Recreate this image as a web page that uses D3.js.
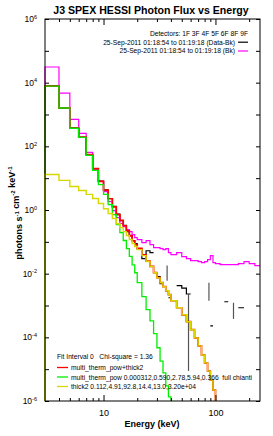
<!DOCTYPE html>
<html>
<head>
<meta charset="utf-8">
<script src="https://cdn.jsdelivr.net/npm/d3@7"></script>
<style>
  body { margin: 0; background: #fff; }
  svg { display: block; font-family: "Liberation Sans", Arial, sans-serif; }
  text { white-space: pre; }
</style>
</head>
<body>
<div id="chart"></div>
<script>
const WIDTH = 273;
const HEIGHT = 436;
const PLOT = { LEFT: 45, RIGHT: 260, TOP: 19, BOTTOM: 401 };

// energy bin edges (keV), one more than the values below
const energyEdges = [3, 4, 5, 6, 7, 8, 9, 10, 11, 12, 13, 14, 15, 16, 17, 18, 19, 20,
  22, 24, 26, 28, 30, 32, 34, 36, 38, 40, 45, 50, 55, 60, 65, 70, 75, 80, 85, 90, 95, 100,
  110, 120, 130, 140, 150, 160, 180, 200, 225, 250];

// Data-Bk (black), null where the flux is not positive
const dataFlux = [7900, 1580, 380, 192, 54, 19.5, 8.1, 4.3, 2.3, 1.3, 0.75, 0.46, 0.33, 0.21, 0.16, 0.11, 0.088,
  0.06, 0.0295, 0.0525, 0.046, null, 0.0081, 0.0049, null, null, 0.00175,
  null, 0.0042, 0.0035, 0.0023, null, null, null, null, null, null,
  2.3e-4, null, null, null, 0.00131, null, null, null, 8.5e-4, null, null, null];

// error bars drawn on a few high energy bins
const errBins = [25, 30, 36, 43];
const errHi = [0.0179, 0.0023, 0.0052, 0.00122];
const errLo = [0.006, 8.8e-6, 0.00142, 3.8e-4];

// background (magenta)
const bkFlux = [3.1e4, 4700, 700, 257, 65, 19, 7.9, 3.8, 1.85, 0.96, 0.58, 0.376, 0.30, 0.243, 0.21, 0.169, 0.136,
  0.118, 0.0946, 0.109, 0.0818, 0.0659, 0.0659, 0.0612, 0.057, 0.0612, 0.0458,
  0.0396, 0.0458, 0.0343, 0.0296, 0.0256, 0.0256, 0.0239, 0.0222, 0.0239, 0.0276,
  0.0369, 0.0222, 0.0206, 0.0192, 0.0192, 0.0192, 0.0192, 0.0192, 0.0206, 0.0239, 0.0206, 0.0179];

// fit components
const totalFit = [7813, 1609, 376, 194, 55, 19.8, 7.9, 4.2, 2.26, 1.26, 0.72, 0.475, 0.32, 0.22, 0.153, 0.107, 0.082,
  0.062, 0.039, 0.0247, 0.0169, 0.0108, 0.0075, 0.0052, 0.0039, 0.0029, 0.0022,
  0.00141, 8.5e-4, 5.1e-4, 3.1e-4, 1.74e-4, 9.6e-5, 5.4e-5, 2.8e-5, 1.58e-5, 8.7e-6,
  4.6e-6, 2.2e-6, 8.7e-7, ...Array(9).fill(null)];

const thermFit = [7800, 1600, 370, 190, 52, 17.5, 6.3, 3.1, 1.48, 0.72, 0.35, 0.195, 0.11, 0.061, 0.035, 0.019, 0.0107,
  0.0052, 0.0019, 7.4e-4, 3.3e-4, 1.3e-4, 4.7e-5, 1.8e-5, 7.6e-6, 3.0e-6, 1.35e-6,
  3e-7, ...Array(21).fill(null)];

const thickFit = [13, 8.5, 5.5, 4.1, 3.1, 2.3, 1.6, 1.1, 0.78, 0.54, 0.37, 0.28, 0.21, 0.158, 0.118, 0.088, 0.071,
  0.057, 0.037, 0.024, 0.0166, 0.0107, 0.0074, 0.0052, 0.0039, 0.0029, 0.0022,
  0.00141, 8.5e-4, 5.1e-4, 3.1e-4, 1.74e-4, 9.6e-5, 5.4e-5, 2.8e-5, 1.58e-5, 8.7e-6,
  4.6e-6, 2.2e-6, 8.7e-7, ...Array(9).fill(null)];

const xMajor = [10, 100];
const xMinor = [4, 5, 6, 7, 8, 9, 20, 30, 40, 50, 60, 70, 80, 90, 200];
const yExponents = [-6, -5, -4, -3, -2, -1, 0, 1, 2, 3, 4, 5, 6];

const fitLabels = ['multi_therm_pow+thick2',
  'multi_therm_pow 0.000312,0.590,2.78,5.94,0.366  full chianti',
  'thick2 0.112,4.91,92.8,14.4,13.0,3.20e+04'];
const fitColours = ['#ff0000', '#00ee00', '#d8d800'];

const svg = d3.select('#chart')
  .append('svg')
    .attr('width', WIDTH)
    .attr('height', HEIGHT);

svg.append('rect').attr('width', WIDTH).attr('height', HEIGHT).attr('fill', '#fff');

const x = d3.scaleLog().domain([3, 250]).range([PLOT.LEFT, PLOT.RIGHT]);
const y = d3.scaleLog().domain([1e-6, 1e6]).range([PLOT.BOTTOM, PLOT.TOP]);

svg.append('clipPath').attr('id', 'clip')
  .append('rect')
    .attr('x', PLOT.LEFT - 1).attr('y', PLOT.TOP)
    .attr('width', PLOT.RIGHT - PLOT.LEFT + 2)
    .attr('height', PLOT.BOTTOM - PLOT.TOP);

// step histogram, broken where a bin has no value
function stepPath(vals, fromBottom) {
  const p = d3.path();
  let open = false;
  vals.forEach((v, i) => {
    if (v == null) { open = false; return; }
    const x0 = x(energyEdges[i]), x1 = x(energyEdges[i + 1]), yv = y(v);
    if (!open) {
      if (fromBottom && i === 0) { p.moveTo(x0, PLOT.BOTTOM + 2); p.lineTo(x0, yv); }
      else p.moveTo(x0, yv);
      open = true;
    } else {
      p.lineTo(x0, yv);
    }
    p.lineTo(x1, yv);
  });
  return p.toString();
}

const curves = svg.append('g').attr('clip-path', 'url(#clip)')
  .attr('fill', 'none').attr('stroke-linejoin', 'miter');

curves.append('path').attr('d', stepPath(dataFlux, true))
  .attr('stroke', '#000').attr('stroke-width', 1.2);

curves.selectAll('line.err')
  .data(errBins)
  .enter().append('line')
    .attr('class', 'err')
    .attr('x1', (b) => x(Math.sqrt(energyEdges[b] * energyEdges[b + 1])))
    .attr('x2', (b) => x(Math.sqrt(energyEdges[b] * energyEdges[b + 1])))
    .attr('y1', (b, i) => y(errHi[i]))
    .attr('y2', (b, i) => y(errLo[i]))
    .attr('stroke', '#555').attr('stroke-width', 1.2);

curves.append('path').attr('d', stepPath(bkFlux, true))
  .attr('stroke', '#ff00ff').attr('stroke-width', 1.2);
curves.append('path').attr('d', stepPath(totalFit, true))
  .attr('stroke', fitColours[0]).attr('stroke-width', 1.7);
curves.append('path').attr('d', stepPath(thermFit, true))
  .attr('stroke', fitColours[1]).attr('stroke-width', 1.3);
curves.append('path').attr('d', stepPath(thickFit, true))
  .attr('stroke', fitColours[2]).attr('stroke-width', 1.4);

// frame
svg.append('rect')
  .attr('x', PLOT.LEFT).attr('y', PLOT.TOP)
  .attr('width', PLOT.RIGHT - PLOT.LEFT).attr('height', PLOT.BOTTOM - PLOT.TOP)
  .attr('fill', 'none').attr('stroke', '#000').attr('stroke-width', 1);

function styleAxis(g) {
  g.select('.domain').remove();
  g.selectAll('.tick line').attr('stroke', '#000');
}

// x axes, ticks pointing inward
svg.append('g').attr('transform', `translate(0,${PLOT.BOTTOM})`)
  .call(d3.axisBottom(x).tickValues(xMajor).tickSize(-6).tickPadding(9).tickFormat(d3.format('d')))
  .call(styleAxis)
  .selectAll('text').attr('font-size', 9).attr('font-family', null).attr('fill', '#000');
svg.append('g').attr('transform', `translate(0,${PLOT.BOTTOM})`)
  .call(d3.axisBottom(x).tickValues(xMinor).tickSize(-3).tickFormat(''))
  .call(styleAxis);
svg.append('g').attr('transform', `translate(0,${PLOT.TOP})`)
  .call(d3.axisTop(x).tickValues(xMajor).tickSize(-6).tickFormat(''))
  .call(styleAxis);
svg.append('g').attr('transform', `translate(0,${PLOT.TOP})`)
  .call(d3.axisTop(x).tickValues(xMinor).tickSize(-3).tickFormat(''))
  .call(styleAxis);

// y axes
const yTicks = yExponents.map((e) => Math.pow(10, e));
svg.append('g').attr('transform', `translate(${PLOT.LEFT},0)`)
  .call(d3.axisLeft(y).tickValues(yTicks).tickSize(-4).tickFormat(''))
  .call(styleAxis);
svg.append('g').attr('transform', `translate(${PLOT.RIGHT},0)`)
  .call(d3.axisRight(y).tickValues(yTicks).tickSize(-4).tickFormat(''))
  .call(styleAxis);

const yLab = svg.append('g').selectAll('text')
  .data(yExponents.filter((e) => e % 2 === 0))
  .enter().append('text')
    .attr('x', 37).attr('y', (e) => y(Math.pow(10, e)) + 3)
    .attr('text-anchor', 'end').attr('font-size', 8.5)
    .text('10');
yLab.append('tspan').attr('dy', -3.5).attr('font-size', 5.5).text((e) => e);

// titles
svg.append('text')
  .attr('x', 151).attr('y', 13.5).attr('text-anchor', 'middle')
  .attr('font-size', 10.6).attr('font-weight', 'bold')
  .text('J3 SPEX HESSI Photon Flux vs Energy');

svg.append('text')
  .attr('x', 152).attr('y', 427).attr('text-anchor', 'middle')
  .attr('font-size', 9).attr('font-weight', 'bold')
  .text('Energy (keV)');

const yTitle = svg.append('text')
  .attr('transform', 'translate(22,213) rotate(-90)')
  .attr('text-anchor', 'middle').attr('font-size', 9).attr('font-weight', 'bold');
[['photons s', '-1'], [' cm', '-2'], [' keV', '-1']].forEach(([base, sup]) => {
  yTitle.append('tspan').attr('dy', 0).text(base);
  yTitle.append('tspan').attr('dy', -3.5).attr('font-size', 6).text(sup);
  yTitle.append('tspan').attr('dy', 3.5).text('');
});

// detectors / time legend
const topLeg = svg.append('g').attr('font-size', 6.7);
topLeg.append('text').attr('x', 248).attr('y', 36).attr('text-anchor', 'end')
  .text('Detectors: 1F 3F 4F 5F 6F 8F 9F');
[['25-Sep-2011 01:18:54 to 01:19:18 (Data-Bk)', '#000'],
 ['25-Sep-2011 01:18:54 to 01:19:18 (Bk)', '#ff00ff']].forEach(([label, colour], i) => {
  const yy = 44.5 + i * 8.8;
  topLeg.append('text').attr('x', 235).attr('y', yy).attr('text-anchor', 'end').text(label);
  topLeg.append('line').attr('x1', 238).attr('x2', 248).attr('y1', yy - 2.3).attr('y2', yy - 2.3)
    .attr('stroke', colour).attr('stroke-width', 1.2);
});

// fit legend
const fitLeg = svg.append('g').attr('font-size', 6.7);
fitLeg.append('text').attr('x', 57).attr('y', 359)
  .text('Fit Interval 0   Chi-square = 1.36');
fitLabels.forEach((label, i) => {
  const yy = 370 + i * 9.5;
  fitLeg.append('line').attr('x1', 57).attr('x2', 68).attr('y1', yy - 2.5).attr('y2', yy - 2.5)
    .attr('stroke', fitColours[i]).attr('stroke-width', 1.3);
  fitLeg.append('text').attr('x', 71).attr('y', yy).text(label);
});
</script>
</body>
</html>
